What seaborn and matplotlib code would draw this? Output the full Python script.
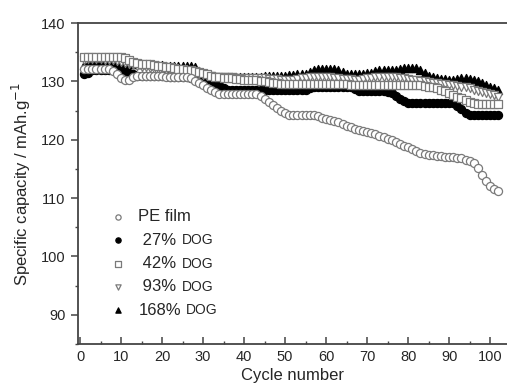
import matplotlib
matplotlib.use("Agg")
import matplotlib.pyplot as plt
from matplotlib.ticker import MultipleLocator
import numpy as np
import pandas as pd
import seaborn as sns

# cycle index (1..102) and specific capacity (mAh/g)
CYCLES = list(range(1, 103))

PE_FILM = [
    132.2, 132.2, 132.2, 132.2, 132.2, 132.2, 132.2, 131.8, 131.2, 130.6,
    130.2, 130.3, 130.7, 131.0, 131.0, 131.0, 131.0, 131.0, 131.0, 131.0,
    130.8, 130.8, 130.8, 130.8, 130.8, 130.8, 130.5, 130.1, 129.7, 129.3,
    128.9, 128.5, 128.1, 127.9, 127.8, 127.8, 127.8, 127.8, 127.8, 127.8,
    127.8, 127.8, 127.8, 127.5, 127.0, 126.5, 126.0, 125.4, 124.9, 124.5,
    124.2, 124.2, 124.2, 124.2, 124.2, 124.2, 124.2, 124.0, 123.8, 123.6,
    123.4, 123.2, 123.0, 122.7, 122.4, 122.1, 121.9, 121.7, 121.5, 121.3,
    121.1, 120.9, 120.7, 120.5, 120.2, 119.9, 119.6, 119.3, 119.0, 118.7,
    118.4, 118.1, 117.8, 117.6, 117.4, 117.3, 117.2, 117.2, 117.1, 117.1,
    117.0, 116.9, 116.8, 116.6, 116.4, 116.0, 115.2, 114.0, 112.9, 112.1,
    111.5, 111.2,
]

DOG_27 = [
    131.2, 131.5, 131.9, 132.0, 132.0, 132.0, 132.0, 132.0, 132.0, 132.0,
    131.8, 131.5, 131.2, 131.0, 131.0, 131.0, 131.0, 131.0, 131.0, 130.9,
    130.9, 130.8, 130.8, 130.8, 130.7, 130.7, 130.6, 130.6, 130.5, 130.5,
    130.4, 130.2, 129.8, 129.3, 128.9, 128.6, 128.5, 128.5, 128.5, 128.5,
    128.5, 128.5, 128.5, 128.5, 128.5, 128.5, 128.5, 128.5, 128.5, 128.5,
    128.5, 128.5, 128.5, 128.5, 128.5, 128.8, 129.0, 129.0, 129.0, 129.0,
    129.0, 129.0, 129.0, 129.0, 129.0, 129.0, 128.7, 128.3, 128.3, 128.3,
    128.3, 128.3, 128.3, 128.3, 128.2, 128.0, 127.5, 127.0, 126.6, 126.3,
    126.3, 126.3, 126.3, 126.3, 126.3, 126.3, 126.3, 126.3, 126.3, 126.3,
    126.3, 125.8, 125.2, 124.6, 124.2, 124.2, 124.2, 124.2, 124.2, 124.2,
    124.2, 124.2,
]

DOG_42 = [
    134.2, 134.2, 134.2, 134.2, 134.2, 134.2, 134.2, 134.2, 134.2, 134.2,
    134.0, 133.7, 133.4, 133.2, 133.0, 133.0, 132.9, 132.8, 132.7, 132.6,
    132.5, 132.4, 132.3, 132.2, 132.1, 132.0, 131.9, 131.8, 131.6, 131.4,
    131.2, 131.0, 130.8, 130.7, 130.6, 130.5, 130.5, 130.4, 130.4, 130.3,
    130.3, 130.2, 130.2, 130.1, 130.0, 129.9, 129.8, 129.7, 129.6, 129.5,
    129.5, 129.5, 129.5, 129.5, 129.5, 129.5, 129.5, 129.5, 129.5, 129.5,
    129.5, 129.5, 129.5, 129.5, 129.5, 129.4, 129.4, 129.4, 129.3, 129.3,
    129.3, 129.3, 129.3, 129.3, 129.3, 129.3, 129.3, 129.3, 129.3, 129.3,
    129.3, 129.3, 129.3, 129.2, 129.1, 129.0, 128.8, 128.6, 128.3, 128.0,
    127.7, 127.4, 127.1, 126.8, 126.5, 126.3, 126.2, 126.2, 126.2, 126.2,
    126.2, 126.2,
]

DOG_93 = [
    133.7, 133.8, 133.8, 133.8, 133.8, 133.7, 133.7, 133.6, 133.5, 133.4,
    133.2, 133.0, 132.8, 132.6, 132.5, 132.4, 132.3, 132.2, 132.2, 132.1,
    132.0, 131.9, 131.8, 131.7, 131.6, 131.5, 131.4, 131.3, 131.2, 131.1,
    131.0, 130.9, 130.8, 130.8, 130.7, 130.7, 130.7, 130.6, 130.6, 130.6,
    130.6, 130.5, 130.5, 130.5, 130.5, 130.4, 130.4, 130.4, 130.3, 130.3,
    130.3, 130.3, 130.4, 130.5, 130.6, 130.7, 130.8, 130.8, 130.8, 130.8,
    130.7, 130.6, 130.5, 130.4, 130.4, 130.4, 130.3, 130.3, 130.4, 130.5,
    130.6, 130.7, 130.8, 130.8, 130.8, 130.8, 130.7, 130.6, 130.5, 130.4,
    130.3, 130.2, 130.1, 130.0, 129.9, 129.8, 129.7, 129.6, 129.5, 129.4,
    129.3, 129.2, 129.1, 129.0, 128.8, 128.6, 128.4, 128.2, 128.0, 127.8,
    127.6, 127.4,
]

DOG_168 = [
    132.8, 133.0, 133.1, 133.1, 133.1, 133.1, 133.1, 133.1, 133.1, 133.1,
    133.0, 133.0, 133.0, 133.0, 133.0, 132.9, 132.9, 132.8, 132.8, 132.8,
    132.7, 132.7, 132.7, 132.7, 132.7, 132.7, 132.7, 132.4, 131.8, 131.2,
    131.0, 130.9, 130.8, 130.8, 130.7, 130.7, 130.7, 130.7, 130.7, 130.7,
    130.7, 130.7, 130.7, 130.8, 130.9, 131.0, 131.0, 131.0, 131.0, 131.0,
    131.1, 131.1, 131.2, 131.2, 131.3, 131.6, 132.0, 132.2, 132.2, 132.2,
    132.2, 132.2, 132.0, 131.6, 131.3, 131.2, 131.2, 131.2, 131.3, 131.4,
    131.5, 131.7, 131.9, 132.0, 132.0, 132.0, 132.0, 132.2, 132.3, 132.3,
    132.3, 132.3, 132.0, 131.5, 131.0, 130.7, 130.5, 130.4, 130.4, 130.3,
    130.3, 130.4, 130.5, 130.5, 130.4, 130.3, 130.0, 129.7, 129.4, 129.0,
    128.8, 128.6,
]

LEGEND_PCT = ["PE film", " 27%", " 42%", " 93%", "168%"]
X_TICKS = [0, 10, 20, 30, 40, 50, 60, 70, 80, 90, 100]
Y_TICKS = [90, 100, 110, 120, 130, 140]

# label, values, marker, face, edge, zorder
SERIES = [
    (LEGEND_PCT[4], DOG_168, "^", "black", "black", 2),
    (LEGEND_PCT[1], DOG_27, "o", "black", "black", 3),
    (LEGEND_PCT[3], DOG_93, "v", "white", "#7a7a7a", 4),
    (LEGEND_PCT[2], DOG_42, "s", "white", "#7a7a7a", 5),
    (LEGEND_PCT[0], PE_FILM, "o", "white", "#7a7a7a", 6),
]


def main() -> None:
    sns.set_style("ticks")
    plt.rcParams["font.family"] = ["Liberation Sans", "DejaVu Sans"]
    text_color = "#262626"

    fig = plt.figure(figsize=(5.07, 3.90), dpi=100)
    ax = fig.add_axes([78 / 507, 46 / 390, 429 / 507, 321 / 390])

    for label, values, marker, face, edge, z in SERIES:
        frame = pd.DataFrame({"cycle": CYCLES, "capacity": values})
        sns.scatterplot(
            data=frame, x="cycle", y="capacity", ax=ax,
            marker=marker, s=34, facecolor=face, edgecolor=edge,
            linewidth=0.9, zorder=z, label=label,
        )

    ax.set_xlim(-0.5, 104.1)
    ax.set_ylim(85, 140)
    ax.set_xticks(X_TICKS)
    ax.set_yticks(Y_TICKS)
    ax.xaxis.set_minor_locator(MultipleLocator(5))
    ax.yaxis.set_minor_locator(MultipleLocator(5))
    ax.tick_params(which="major", direction="in", length=5, width=1.1,
                   color="#444444", labelsize=10.5, labelcolor=text_color, pad=4)
    ax.tick_params(which="minor", direction="in", length=2.5, width=1.0,
                   color="#444444")
    ax.tick_params(axis="y", direction="out")
    ax.tick_params(axis="y", which="minor", direction="out")

    for side in ("left", "bottom", "top"):
        ax.spines[side].set_color("#444444")
        ax.spines[side].set_linewidth(1.3)
    ax.spines["right"].set_visible(False)

    ax.set_xlabel("Cycle number", fontsize=12, color=text_color, labelpad=3)
    ax.set_ylabel("Specific capacity / mAh.g$^{-1}$", fontsize=12,
                  color=text_color, labelpad=6)

    # legend in the reference order
    h, l = ax.get_legend_handles_labels()
    lookup = dict(zip(l, h))
    leg = ax.legend(
        [lookup[k] for k in LEGEND_PCT], LEGEND_PCT,
        loc="upper left", bbox_to_anchor=(0.055, 0.445), frameon=False,
        fontsize=12, markerscale=0.65, handlelength=1.0, handletextpad=0.7,
        labelspacing=0.5, borderpad=0,
    )
    for t in leg.get_texts():
        t.set_color(text_color)

    fig.canvas.draw()
    renderer = fig.canvas.get_renderer()
    inv = fig.transFigure.inverted()
    for t in leg.get_texts()[1:]:
        bb = t.get_window_extent(renderer)
        x0, yc = inv.transform((bb.x1 + 5, (bb.y0 + bb.y1) / 2))
        fig.text(x0, yc, "DOG", fontsize=10, color=text_color,
                 ha="left", va="center")

    fig.savefig("out.png", dpi=100, facecolor="white")
    plt.close(fig)


if __name__ == "__main__":
    main()
